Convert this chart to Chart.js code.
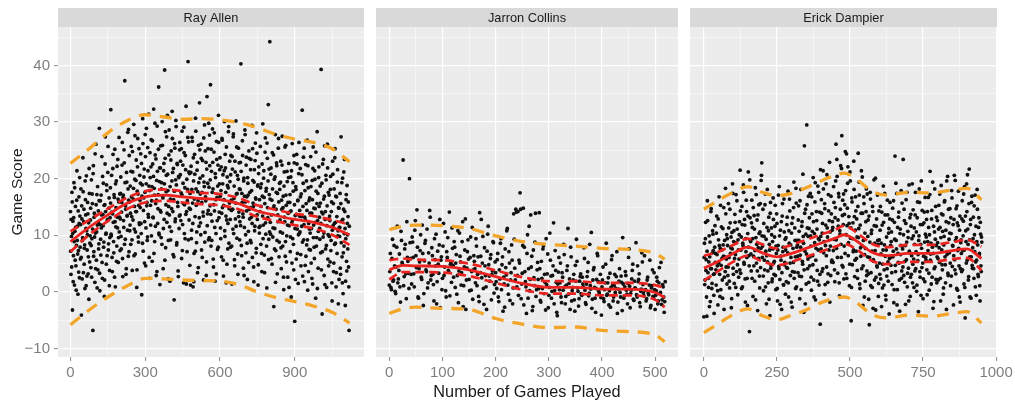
<!DOCTYPE html>
<html>
<head>
<meta charset="utf-8">
<title>Game Score by Number of Games Played</title>
<script src="https://cdn.jsdelivr.net/npm/chart.js@4.4.1/dist/chart.umd.min.js"></script>
<style>
  html, body { margin: 0; padding: 0; background: #ffffff; }
  #wrap { position: relative; width: 1015px; height: 402px; overflow: hidden; }
  .facet { position: absolute; top: 0; height: 402px; }
</style>
</head>
<body>
<div id="wrap">
  <div class="facet" style="left:0px;width:368px"><canvas id="facet0"></canvas></div>
  <div class="facet" style="left:372px;width:310px"><canvas id="facet1"></canvas></div>
  <div class="facet" style="left:686px;width:329px"><canvas id="facet2"></canvas></div>
</div>
<script>
// ---- facet names and axis text ----
const players = ['Ray Allen', 'Jarron Collins', 'Erick Dampier'];
const yTitle = 'Game Score';
const xTitle = 'Number of Games Played';

// game scores: the *Even arrays hold games 0, 2, 4, ... and the *Odd arrays games 1, 3, 5, ...
const gameStep = 2;

const allenEven = [
  14.2, 3.1, 9.8, 17.6, -3.2, 12.5, 6.4, 19.3, 1.2, 10.7, 15.1, 4.6, 8.2, 21.4, 11.6, -0.4, 7.3, 16.8, 2.5, 13.4,
  5.8, 18.2, -4.1, 12.9, 9.1, 23.7, 3.4, 14.6, 7.7, 0.6, 16.3, 11.2, 20.5, 2.8, 10.1, 13.8, 6.2, -1.3, 17.4, 8.6,
  12.7, 4.3, 19.8, 9.4, 15.6, -6.8, 22.3, 7.1, 13.9, 1.7, 10.4, 26.1, 5.6, 17.2, 11.8, 3.9, 14.3, 8.5, 28.9, 0.2,
  16.1, 6.5, 11.3, 23.9, 2.4, 13.7, 19.2, 8.8, -0.8, 15.4, 27.4, 10.2, 4.9, 17.9, 12.6, 21.1, 7.4, 14.8, 1.1, 9.6,
  18.4, 32.2, 9.9, 14.1, 3.6, 21.8, 12.3, 6.9, 16.7, 25.2, 0.9, 11.5, 19.6, 8.1, 13.2, 23.4, 5.2, 15.9, 10.6, 17.3,
  12.9, 20.3, 7.6, 15.8, 26.4, 2.7, 17.1, 11.4, 22.8, 37.3, 9.3, 14.6, 4.1, 19.4, 13.5, 28.2, 6.3, 16.2, 24.1, 10.8,
  18.7, 8.4, 25.7, 13.3, 3.8, 21.2, 16.4, 29.6, 11.1, 19.9, 6.7, 14.2, 23.3, 0.8, 17.8, 27.1, 9.7, 15.3, 12.2, 20.6,
  14.9, 24.4, 10.3, -0.5, 18.9, 30.6, 7.2, 16.6, 21.7, 12.4, 27.8, 4.6, 19.1, 15.2, 9.1, 25.5, 13.7, 31.4, 6.1, 17.9,
  20.2, 11.8, 26.9, 16.1, 5.4, 22.6, 13.1, 32.3, 18.3, 8.9, 24.2, 15.6, 2.9, 19.7, 29.3, 12.1, 17.2, 36.2, 10.1, 21.9,
  14.4, 25.8, 9.6, 19.3, 30.1, 16.9, 4.1, 21.4, 12.8, 39.2, 23.6, 7.8, 17.7, 27.4, 13.9, 20.8, 2.3, 15.1, 28.6, 11.5,
  18.6, 9.2, 24.9, 14.7, 31.9, 21.1, 6.6, 16.3, -1.4, 26.2, 12.4, 19.8, 29.2, 8.3, 22.7, 15.8, 3.7, 20.4, 11.2, 25.1,
  13.6, 23.1, 17.5, 5.9, 28.4, 11.9, 19.2, 1.6, 24.6, 15.4, 9.4, 21.6, 32.8, 14.2, 7.1, 18.1, 40.7, 26.5, 12.7, 20.9,
  17.4, 1.2, 22.2, 10.9, 27.3, 15.7, 0.9, 19.6, 6.8, 24.3, 13.3, 30.7, 18.2, 8.7, 21.5, 3.4, 16.1, 25.9, 11.6, 33.4,
  20.1, 12.2, 26.1, 7.4, 17.6, 23.2, 14.1, 2.1, 19.4, 29.5, 10.5, 16.8, 22.9, 5.3, 34.5, 13.8, 25.3, 9.2, 18.5, 27.7,
  15.2, 36.6, 8.1, 21.3, 12.5, 28.8, 18.2, 4.4, 24.7, 14.3, 1.9, 20.2, 10.3, 26.6, 16.7, 7.5, 22.4, 31.2, 13.1, 19.1,
  23.7, 11.3, 17.9, 6.2, 27.1, 14.9, 20.7, 2.8, 16.3, 30.1, 9.8, 21.9, 13.4, 25.6, 4.9, 18.8, 12.1, 28.3, 8.6, 15.7,
  19.5, 7.9, 24.1, 14.4, 1.4, 21.7, 11.1, 27.9, 16.5, 5.7, 23.1, 12.9, 30.2, 17.3, 9.5, 20.6, 3.1, 25.4, 14.1, 18.2,
  12.4, 22.9, 40.3, 8.2, 17.4, 26.7, 13.8, 4.2, 20.1, 11.4, 28.6, 15.9, 6.9, 23.8, 16.8, 2.2, 19.2, 10.7, 24.9, 14.6,
  17.6, 9.1, 23.4, 13.2, 29.4, 6.1, 19.7, 15.1, 1.8, 21.6, 11.6, 26.3, 16.4, 7.7, 24.5, 12.8, 18.9, 4.8, 22.1, 10.4,
  14.2, 25.7, 8.4, 19.1, 3.6, 16.9, 29.7, 11.8, 21.4, 6.5, 15.6, 27.2, 10.2, 18.3, 0.7, 23.6, 13.1, 33.1, 9.3, 17.2,
  44.2, 12.3, 20.8, 5.9, 16.2, 24.6, 9.7, 14.8, -2.6, 19.9, 11.2, 27.8, 7.3, 17.6, 22.3, 3.2, 13.6, 25.4, 15.9, 8.8,
  18.1, 10.6, 23.1, 4.1, 14.6, 27.5, 8.1, 16.9, 0.4, 21.2, 12.4, 6.3, 25.9, 15.3, 9.9, 19.5, 2.6, 13.9, 22.7, 11.7,
  15.8, 7.1, 20.3, -0.9, 12.2, 26.2, 9.4, 17.8, 3.9, 22.8, -5.2, 13.5, 18.6, 5.8, 24.3, 11.1, 16.1, 1.5, 20.9, 10.3,
  14.4, 21.8, 6.6, 17.3, 11.6, 32.1, 2.8, 19.2, 9.2, 25.4, 13.2, 4.7, 22.5, 15.6, 8.3, 26.8, 0.3, 18.4, 12.1, 7.5,
  16.6, 10.4, 23.9, 5.1, 13.9, 19.7, 1.4, 25.6, 11.8, 7.9, 21.4, 14.7, -1.1, 17.8, 9.6, 28.3, 12.6, 4.2, 20.2, 15.1,
  11.2, 18.7, 6.9, 39.3, 14.1, -3.9, 22.6, 9.7, 16.4, 2.9, 25.8, 12.8, 7.6, 19.8, 0.8, 15.2, 21.9, 10.1, 4.6, 17.1,
  13.4, 5.3, 20.4, 9.1, 15.9, -1.6, 23.1, 11.7, 3.6, 18.2, 8.4, 25.3, 12.3, 0.9, 16.8, 6.8, 21.6, 10.8, 14.9, 2.2,
  9.8, 17.4, 3.1, 27.4, 12.5, 6.2, 20.1, -0.3, 14.6, 8.1, 23.4, 11.2, 1.9, 16.3, 5.4, 18.8, 10.1, 13.3, 4.4, -6.8
];
const allenOdd = [
  7.2, 12.8, 4.4, 15.9, 10.3, 1.8, 13.1, 8.9, 18.4, 5.6, 11.4, 0.3, 16.2, 9.1, 6.7, 14.3, 3.5, 12.1, 20.2, 7.9,
  11.9, 6.1, 15.2, 2.3, 9.6, 17.7, 12.4, 4.9, 8.3, 19.6, 13.6, 1.1, 10.8, 7.4, 15.8, 3.2, 12.2, 21.8, 5.3, 9.9,
  14.8, 8.2, 2.6, 17.3, 11.1, 20.9, 6.3, 13.2, 9.7, 24.4, 4.1, 15.4, 10.6, 0.7, 18.6, 12.3, 7.6, 16.1, 3.3, 11.9,
  9.3, 17.1, 13.6, 5.2, 20.4, 11.7, 7.9, 15.3, 2.1, 22.6, 14.2, 10.4, 18.9, 6.4, 12.8, 25.7, 8.5, 16.6, 3.8, 13.1,
  15.7, 10.2, 20.6, 6.1, 13.8, 24.3, 8.9, 17.2, 2.6, 12.4, 19.1, 14.9, 5.4, 22.2, 11.3, 16.4, 9.6, 27.3, 13.2, 7.3,
  17.4, 9.8, 14.1, 22.4, 5.9, 16.7, 12.6, 25.1, 8.4, 19.3, 15.2, 3.1, 21.1, 13.4, 10.9, 18.2, 28.7, 7.1, 15.9, 11.8,
  13.9, 21.3, 16.8, 9.2, 24.8, 12.7, 18.3, 6.4, 15.1, 27.6, 10.6, 19.7, 14.2, 3.9, 22.1, 17.3, 8.8, 25.3, 11.9, 16.2,
  19.2, 12.1, 22.7, 16.9, 8.6, 26.2, 14.4, 20.3, 5.1, 17.6, 23.9, 11.3, 28.9, 15.8, 9.7, 21.4, 13.2, 18.7, 2.4, 24.6,
  15.3, 22.1, 9.9, 18.6, 26.7, 13.2, 20.4, 6.8, 17.1, 29.8, 11.6, 23.5, 16.2, 3.6, 21.3, 14.7, 25.2, 10.4, 19.5, 1.3,
  21.9, 14.1, 18.2, 8.4, 25.9, 16.6, 11.2, 22.7, 19.1, 5.6, 28.3, 15.4, 20.6, 12.3, 31.2, 17.9, 9.1, 24.2, 13.6, 1.9,
  16.4, 23.3, 10.7, 19.6, 27.1, 14.2, 21.8, 6.2, 17.8, 25.4, 12.9, 30.3, 18.9, 8.7, 22.5, 15.1, 2.7, 20.2, 13.4, 26.4,
  20.7, 12.6, 25.3, 17.2, 7.3, 22.4, 15.6, 29.1, 10.3, 18.4, 24.1, 13.7, 1.4, 19.9, 16.1, 27.3, 9.2, 21.2, 14.8, 4.7,
  14.6, 21.1, 9.4, 18.1, 26.6, 12.1, 23.7, 1.8, 16.4, 20.8, 7.2, 28.4, 15.3, 10.6, 22.9, 17.7, 4.3, 19.3, 13.1, 25.1,
  17.3, 10.1, 23.6, 15.8, 6.1, 20.5, 13.4, 27.2, 18.6, 8.8, 24.9, 16.1, 2.9, 21.7, 11.7, 19.2, 14.4, 29.8, 9.6, 22.3,
  19.8, 13.7, 25.2, 9.1, 17.6, 22.9, 5.8, 15.4, 28.1, 11.4, 20.9, 16.3, 3.2, 23.4, 12.6, 18.7, 7.9, 26.4, 14.1, 21.6,
  16.9, 9.4, 22.1, 13.9, 26.8, 19.1, 5.6, 15.3, 21.4, 10.8, 24.3, 17.6, 1.6, 12.7, 20.3, 7.6, 18.4, 29.2, 14.7, 23.1,
  12.8, 20.7, 16.2, 8.1, 23.9, 14.6, 27.4, 10.3, 18.7, 4.6, 21.2, 15.7, 11.6, 25.6, 17.4, 6.7, 19.9, 13.3, 22.8, 9.2,
  18.1, 11.7, 21.3, 6.4, 15.8, 24.1, 13.2, 19.6, 2.9, 16.9, 27.8, 10.1, 22.4, 14.3, 8.6, 20.2, 17.1, 5.2, 23.6, 12.9,
  14.9, 21.6, 8.7, 17.9, 12.1, 25.3, 15.7, 4.4, 19.4, 10.8, 23.2, 16.6, 6.9, 28.1, 13.6, 18.7, 1.2, 20.9, 11.4, 16.3,
  11.6, 18.4, 15.1, 6.8, 22.6, 13.4, 9.4, 20.1, 16.7, 3.4, 24.7, 12.2, 17.8, 8.1, 26.3, 14.9, 19.6, 5.7, 21.7, 10.6,
  16.4, 10.2, 21.9, 13.6, 4.9, 18.2, 11.3, 24.2, 15.2, 7.6, 20.3, 1.7, 14.6, 22.8, 9.1, 17.4, 12.4, 27.1, 6.2, 19.2,
  12.7, 19.4, 7.8, 16.2, 22.4, 10.4, 14.9, 2.6, 18.7, 13.2, 25.6, 8.9, 17.1, 5.3, 21.3, 11.8, 15.8, 20.2, 0.8, 14.1,
  17.2, 9.7, 14.3, 21.4, 5.1, 12.6, 19.3, 8.4, 24.1, 15.4, 11.2, 2.2, 18.1, 13.7, 22.6, 6.8, 16.2, 10.1, 26.4, 13.4,
  10.6, 16.8, 4.6, 13.3, 20.7, 8.8, 15.1, 23.8, 11.9, 1.8, 17.9, 12.7, 6.3, 19.6, 14.4, 9.2, 22.3, 3.6, 16.1, 11.1,
  13.9, 7.4, 18.6, 11.2, 2.4, 16.3, 21.8, 9.6, 14.8, 5.9, 19.9, 12.3, 24.7, 8.1, 15.6, 0.6, 17.4, 10.7, 22.1, 13.2,
  9.3, 15.7, 12.1, 3.9, 19.2, 7.1, 13.8, 23.4, 10.4, 16.9, 1.3, 14.2, 20.6, 8.2, 11.7, 26.1, 5.8, 17.6, 12.9, 9.8,
  12.6, 18.1, 7.3, 14.2, 1.6, 10.9, 20.8, 15.6, 5.1, 12.1, 23.7, 8.6, 16.9, 3.4, 13.3, 19.4, 9.9, -2.1, 14.8, 11.4,
  11.4, 4.2, 15.6, 8.7, 19.3, 1.6, 12.8, 6.9, 21.2, 10.3, 14.2, -2.4, 9.4, 17.2, 3.7, 12.1, 7.6, 15.9, 0.9, 11.6
];

const collinsEven = [
  1.2, 6.8, 0.4, 9.3, 2.1, 4.6, -0.3, 7.9, 1.6, 3.8, 0.9, 10.7, 5.2, 23.3, 2.7, 8.4, -1.2, 6.1, 3.3, 20.0,
  5.9, 1.4, 8.8, 3.2, 10.9, 6.4, 14.5, -0.9, 4.1, 7.3, 2.6, 11.8, -2.4, 5.5, 9.1, 3.6, 0.7, 6.9, 14.4, 2.1,
  7.8, 3.1, -1.6, 5.7, 10.2, 1.8, 4.9, 8.3, -2.8, 6.2, 2.4, 12.1, 4.4, 0.2, 7.1, 9.6, 3.5, -0.7, 5.1, 11.3,
  4.7, 8.9, 0.8, 6.6, 2.9, -1.9, 10.4, 5.3, 3.4, 12.4, 1.1, 7.4, -3.1, 4.2, 9.2, 2.2, 6.1, 0.3, 11.4, 3.9,
  5.4, 1.6, 8.1, 3.1, -0.8, 14.0, 6.3, 2.5, 9.8, -2.2, 4.6, 0.9, 7.2, 11.6, 2.8, 5.9, -1.4, 3.7, 8.7, 1.3,
  3.4, 0.6, 6.8, -1.7, 2.3, 9.4, 4.8, -3.4, 1.4, 7.6, 3.0, 11.2, -0.4, 5.1, 2.1, 8.3, -2.1, 13.8, 4.2, 14.6,
  0.9, 14.2, 5.6, 17.5, -1.2, 3.3, 14.8, 7.9, 1.8, -3.8, 10.1, 4.1, 0.2, 13.6, 6.3, -2.6, 2.5, 8.8, -0.8, 3.9,
  2.2, 14.0, -1.5, 5.4, 0.6, 8.1, 3.1, -3.2, 1.3, 6.7, -0.6, 10.4, 2.8, 0.1, 4.6, -2.1, 7.3, 1.7, -4.2, 3.5,
  0.4, 5.1, -1.9, 2.6, 8.4, 0.9, -0.8, 3.8, 11.2, 1.5, -3.1, 6.2, 0.2, 2.1, -1.4, 4.7, 9.3, 0.7, -2.5, 1.9,
  3.2, -0.6, 1.4, 7.8, 0.3, -2.2, 2.7, 5.2, -0.2, 1.1, 10.5, -1.3, 3.9, 0.8, -3.6, 2.2, 6.4, 0.1, 1.7, -1.0,
  0.9, 4.4, -1.7, 1.6, 8.6, -0.4, 2.5, 0.2, -2.7, 5.7, 1.2, -0.9, 3.1, 0.6, 7.1, -1.8, 1.9, -0.1, 2.8, -3.3,
  1.4, -0.7, 3.6, 0.3, -2.1, 6.1, 1.0, -0.3, 2.3, 4.9, -1.5, 0.7, 8.7, -0.9, 1.8, 3.2, -2.6, 0.5, 5.3, -0.2,
  6.4, 0.4, -1.2, 2.6, -0.5, 5.6, -2.4, 1.1, -0.8, 3.4, -3.1, 0.2, 1.9, -1.6, 4.3, -0.1, -2.2, 1.3, -0.9, -1.7
];
const collinsOdd = [
  3.6, 0.8, 5.9, 1.9, 8.2, 0.1, 4.4, 11.6, 2.3, 6.7, -1.8, 9.1, 4.9, 1.1, 7.6, 3.2, 12.4, 5.4, 0.6, 8.7,
  3.1, 9.7, 6.1, 0.9, 12.6, 4.3, 7.9, -1.1, 5.3, 10.1, 2.2, 6.8, -0.3, 8.6, 3.9, 11.1, 1.6, 5.1, 13.2, 2.9,
  6.4, 1.3, 9.4, 4.6, -2.1, 7.2, 3.3, 12.8, 5.6, 0.4, 8.1, 2.9, 10.6, -0.9, 6.1, 3.8, 14.1, 4.9, 1.7, 7.7,
  2.6, 7.9, 5.1, -0.4, 10.8, 3.7, 6.3, 1.2, 8.9, -2.6, 4.4, 12.9, 2.1, 7.1, 5.8, 0.2, 9.7, 3.6, -1.3, 6.4,
  4.1, 9.4, 1.1, 6.2, -1.7, 3.4, 12.8, 5.1, 0.6, 7.8, 2.9, -3.1, 10.2, 4.8, 1.9, 6.6, 3.1, 8.9, -0.2, 5.3,
  1.8, 5.7, -0.9, 3.9, 8.6, 0.4, 6.2, 2.6, -2.7, 4.3, 10.8, 1.2, 7.1, -1.5, 3.4, 5.6, 0.7, 9.3, 2.1, 14.1,
  2.9, -0.6, 5.1, 14.6, 1.4, 8.2, -2.3, 3.6, 0.9, 6.8, -1.1, 11.6, 2.2, 4.4, -3.3, 7.4, 1.1, 13.9, 0.4, 5.2,
  0.6, 4.1, -1.8, 2.4, 7.6, -0.3, 1.7, 9.4, 3.2, -2.8, 0.8, 5.6, -1.1, 2.9, 12.2, 0.2, 3.8, -3.6, 1.4, 6.1,
  1.6, -0.9, 3.4, 0.3, 6.6, -2.1, 1.2, 4.6, -0.4, 2.3, 7.9, -1.6, 0.8, 3.1, -3.4, 1.9, 5.4, 0.1, -1.2, 2.7,
  -0.3, 2.6, 0.9, 5.9, -1.9, 1.4, 3.6, -0.7, 8.4, 0.5, -2.9, 2.1, 4.3, -1.1, 0.6, 6.8, 1.8, -0.2, 3.1, -4.1,
  2.1, -1.2, 0.4, 4.9, -0.6, 1.6, -2.3, 3.3, 0.8, 6.4, -1.6, 1.1, -0.1, 2.7, -3.8, 0.5, 4.1, -0.9, 1.7, 9.6,
  -1.1, 0.9, 2.9, -0.4, 1.5, 7.6, -2.8, 0.3, 3.8, -1.3, 1.9, 0.6, -0.5, 4.6, 2.2, -1.9, 0.1, 6.9, 1.3, -0.7,
  0.3, -1.6, 2.1, -0.2, 1.2, -2.8, 0.7, 3.9, -1.1, 0.4, -0.6, 2.6, -2.1, 1.6, -0.3, 5.2, -1.4, 0.9, -3.6, 1.8
];

const dampierEven = [
  -4.4, 8.6, 2.1, 12.3, 5.7, -4.3, 16.1, 3.4, 0.8, 9.9, 6.2, -1.7, 14.2, 4.1, 1.5, 10.8, 7.3, -0.6, 3.2, 11.7,
  6.8, 1.2, 13.4, 4.6, -2.3, 9.2, 16.8, 3.1, 7.7, 0.4, 11.5, 5.9, -1.1, 8.3, 14.9, 2.6, 6.2, 18.3, 4.4, 10.1,
  9.4, 2.9, 15.6, 6.1, 0.7, 12.2, 7.8, -2.8, 10.5, 19.1, 4.2, 8.9, 1.5, 13.7, 6.6, 17.2, 3.6, 11.1, -0.5, 7.4,
  5.8, 12.4, 21.5, 3.3, 9.7, 15.1, 0.9, 8.2, 17.6, 4.9, 11.8, -1.8, 7.1, 14.2, 2.4, 10.3, 21.2, 6.4, -7.0, 13.1,
  8.9, 3.7, 16.2, 11.4, -0.8, 6.3, 13.5, 1.9, 18.4, 9.6, 5.1, 12.7, -3.3, 7.8, 15.4, 2.8, 10.6, 4.3, 19.7, 22.8,
  6.1, 14.6, 0.2, 9.8, 3.9, 17.3, 7.2, -2.1, 11.4, 5.3, 1.6, 13.2, 8.4, -4.2, 15.8, 4.7, 10.1, 2.3, 7.6, 12.8,
  3.1, 9.7, 15.3, 0.4, 6.8, 12.1, -1.6, 8.2, 4.5, 18.6, 2.2, 10.9, 5.6, -3.1, 13.4, 7.1, 1.3, 16.4, 4.8, 9.3,
  7.4, 1.8, 11.9, 4.2, 17.8, -0.9, 8.6, 14.3, 2.9, 6.1, 10.4, -2.7, 13.1, 5.2, 19.4, 3.5, 9.1, 0.6, 15.7, 7.9,
  8.3, 3.4, 15.2, 10.7, -1.2, 6.5, 18.1, 2.7, 12.4, 4.9, 9.8, -3.6, 25.8, 7.2, 14.6, 1.4, 29.5, 11.3, 5.8, 16.9,
  11.2, 4.6, 17.4, 8.1, 0.3, 13.8, 6.4, 20.2, 2.1, 10.3, 15.9, -1.4, 7.7, 12.6, 3.8, 18.7, 9.4, 1.2, 14.1, -5.7,
  9.8, 16.3, 3.6, 12.1, 21.4, 6.9, -0.4, 14.7, 8.2, 19.1, 4.4, 11.3, 1.7, 17.2, 7.4, 22.9, 10.6, 2.9, 13.8, 5.6,
  12.4, 5.2, 18.6, 9.3, 1.8, 14.9, 26.1, 7.7, 20.4, 3.3, 11.6, 16.8, -0.7, 10.2, 22.3, 6.1, 27.6, 13.5, 4.4, 17.3,
  8.1, 15.4, 24.8, 3.2, 24.4, 11.7, 19.2, 6.4, 13.3, 1.1, 21.2, 9.5, -5.1, 16.6, 4.8, 12.2, 7.4, 18.1, 2.7, 10.9,
  14.3, 5.9, 9.7, 2.4, 24.5, 11.2, 17.1, 0.6, 7.8, 13.9, 4.1, 20.3, -2.4, 9.1, 15.6, 6.6, 1.9, 12.4, 18.2, 3.7,
  6.2, 12.7, -1.3, -5.8, 8.8, 16.4, 3.4, 10.9, 0.8, 14.2, 5.7, 19.8, 2.1, 7.3, -3.2, 11.6, 4.6, 17.1, 8.4, 1.5,
  9.2, 3.1, 15.1, 6.7, -2.6, 11.8, 4.9, 18.7, 1.2, 8.3, 13.6, -0.6, 7.4, 2.8, 16.2, 5.3, 10.4, -3.9, 12.9, 6.1,
  4.7, 10.6, 1.3, 14.8, 7.2, -1.9, 12.3, 24.0, 3.6, 9.1, 17.4, 0.4, 6.8, 13.2, 5.1, -3.4, 11.1, 8.2, 2.4, 15.7,
  7.6, 23.4, 2.9, 12.6, 5.4, -2.2, 16.3, 8.8, 0.9, 10.7, 4.2, 18.9, 6.9, -0.8, 13.7, 3.1, 9.4, 1.6, 14.5, 5.8,
  11.3, 3.7, 17.6, 7.1, 0.1, 13.1, 5.5, -3.5, 9.9, 15.8, 2.6, 8.4, 19.6, 4.3, 11.9, -1.2, 6.3, 14.1, 1.8, 10.2,
  5.6, 12.8, -0.5, 8.9, 16.7, 3.3, 10.1, 21.3, 6.7, 1.4, 14.4, 7.9, -2.9, 11.6, 4.1, 18.2, 9.3, 2.2, 13.2, 6.2,
  8.7, 2.1, 15.3, 5.2, 11.4, -1.6, 18.8, 7.4, 3.9, 13.6, 0.7, 9.8, 16.1, 4.8, 10.9, -3.1, 6.6, 20.4, 2.9, 12.2,
  6.9, 14.7, 1.1, 10.3, 17.9, 4.5, 8.1, -2.3, 12.8, 5.7, 19.7, 3.2, 9.6, 15.2, 0.3, 11.7, 7.7, -0.9, 13.4, 4.1,
  9.2, 3.6, 16.1, 7.3, 12.5, 1.4, 18.6, -4.6, 10.8, 5.1, 14.2, 20.7, 8.4, 2.7, 21.7, 6.2, 11.9, -1.1, 15.8, 4.7,
  7.8, 13.2, 2.4, 10.1, 17.1, 5.3, -0.6, 8.9, 14.6, 3.1, 11.4, 6.4, 1.1, 12.3, 4.6, 9.7
];
const dampierOdd = [
  6.1, 1.3, 9.4, 3.8, -0.9, 7.2, 12.6, 2.4, 5.3, -2.6, 8.8, 4.1, 14.7, 0.6, 6.9, 10.2, 3.1, -3.8, 7.9, 5.2,
  3.9, 10.4, 6.6, 0.2, 12.9, 5.1, 8.2, -0.8, 15.3, 4.7, 7.4, 2.1, 11.2, 6.3, -3.1, 9.1, 3.6, 13.8, 5.8, 1.4,
  8.2, 4.4, 11.3, 1.9, 14.6, 6.8, 9.7, -1.2, 7.6, 17.4, 3.1, 10.8, 5.9, 12.3, 0.8, 8.7, 16.1, 4.8, 9.2, 2.6,
  10.1, 3.9, 14.3, 7.4, 0.6, 11.9, 8.6, 18.9, 5.2, 12.8, 2.3, 9.4, 16.2, 6.1, -2.4, 13.4, 7.9, 4.6, 19.8, 9.1,
  6.7, 12.2, 2.4, 9.4, 14.9, 4.6, 11.1, 7.3, -1.4, 17.2, 8.4, 3.7, 13.6, 5.9, 10.3, 0.7, 15.6, 7.7, 20.6, 9.9,
  8.1, 2.8, 12.1, 5.6, 15.4, 0.9, 9.3, 6.4, 18.1, 3.7, 10.8, -1.3, 7.4, 13.9, 4.2, 11.3, 1.8, 8.9, 16.6, 5.1,
  5.4, 11.6, 2.9, 8.1, 13.8, 0.6, 7.4, 17.1, 4.1, 9.9, -2.2, 6.3, 12.4, 3.4, 15.6, 7.9, 1.2, 10.6, 5.2, -0.4,
  9.6, 4.3, 13.2, 6.9, 1.6, 10.8, 16.4, 5.1, 8.3, -1.8, 12.1, 3.6, 7.7, 14.9, 2.4, 11.3, 6.2, 18.3, 0.9, 9.1,
  6.3, 12.7, 9.1, 2.8, 16.1, 7.9, 0.4, 11.6, 5.4, 20.8, 8.6, 3.9, 13.9, -2.1, 10.2, 6.7, 15.4, 4.1, 9.8, 1.7,
  13.1, 6.2, 9.9, 2.6, 16.8, 10.7, 4.8, 12.4, -0.9, 8.7, 19.3, 5.6, 14.2, 11.1, 1.9, 7.4, 17.6, 9.2, 3.1, 21.6,
  7.6, 13.9, 10.4, 4.1, 18.2, 8.9, 15.6, 1.3, 11.8, 6.4, 20.7, 9.7, 3.2, 14.3, 12.6, -1.8, 8.1, 16.9, 5.3, 10.9,
  11.4, 7.3, 15.8, 3.9, 13.1, 19.6, 9.2, 23.4, 6.1, 12.7, 17.4, 1.6, 10.8, 14.6, 8.4, 21.8, 4.7, 16.2, 11.9, 2.3,
  13.7, 6.8, 17.9, 10.1, 2.4, 14.8, 22.1, 8.7, 12.1, 4.9, 19.6, 11.3, 0.8, 15.9, 9.4, 7.1, 23.1, 13.3, 5.6, 16.8,
  7.2, 12.9, 3.8, 15.1, 9.6, 19.4, 1.4, 11.8, 6.3, 21.4, 8.1, 13.9, 4.6, 16.8, -0.9, 10.4, 7.7, 14.2, 2.9, 17.3,
  9.8, 3.2, 13.4, 6.1, 17.6, 1.1, 10.3, 7.2, 15.1, -2.9, 5.4, 11.7, 8.6, 20.1, 2.6, 12.9, 4.4, 9.1, -0.8, 14.3,
  5.1, 10.9, 2.3, 8.6, 14.1, 0.7, 7.4, 12.3, 3.9, 17.4, 6.3, -1.4, 9.7, 4.1, 13.6, 1.9, 11.2, 5.9, 15.8, 8.2,
  8.9, 3.4, 12.7, 6.2, 16.1, 0.4, 9.3, 4.7, 19.2, 7.6, -2.3, 11.4, 5.2, 14.1, 2.1, 10.3, 6.6, 17.9, 3.7, 8.1,
  4.4, 10.1, 14.6, 1.7, 8.2, 12.1, 5.7, 17.6, 3.3, 9.6, -1.6, 7.2, 13.1, 2.6, 11.6, 6.4, 19.1, 4.9, 9.9, 0.8,
  8.4, 13.6, 4.1, 10.6, 1.2, 15.9, 6.6, 9.1, 18.2, 3.6, 11.9, -0.6, 7.7, 14.4, 5.1, 2.3, 12.2, 8.8, 16.7, 6.1,
  9.7, 3.9, 14.2, 7.3, 11.4, 0.3, 17.2, 5.6, 8.6, 12.9, 2.6, 19.4, 6.8, -1.7, 10.6, 4.4, 15.1, 8.2, 1.6, 12.6,
  5.9, 11.1, 7.8, 17.3, 2.4, 9.6, 13.8, 4.8, 10.7, -0.4, 8.3, 15.9, 6.2, 1.6, 12.4, 19.6, 7.1, 3.3, 14.6, 9.3,
  10.4, 5.1, 13.1, 2.8, 16.6, 8.2, 11.9, 6.4, 20.6, 3.9, 9.1, 14.7, 0.6, 12.2, 7.3, 17.8, 4.6, 10.9, -1.8, 8.7,
  6.8, 12.9, 3.9, 9.9, 17.3, 7.4, 0.8, 13.4, 8.9, 19.1, 5.6, 11.1, 2.1, 15.6, 9.2, -0.9, 12.8, 6.2, 16.9, 4.2,
  9.4, 4.1, 15.2, 7.1, 0.9, 11.6, 5.6, 18.1, 8.3, 2.7, 13.1, 6.8, -1.6, 10.2, 3.6, 8.8
];

// smoothed trend (solid), its confidence limits (red dashes) and the wider interval (orange dashes)
const allenFitGames = [0, 75, 150, 225, 300, 375, 450, 525, 600, 675, 750, 825, 900, 975, 1050, 1120];
const allenFit      = [8.9, 11.4, 13.6, 15.6, 16.8, 17.1, 16.8, 16.5, 16.3, 15.6, 14.3, 13.5, 12.8, 12.3, 11.4, 10.1];
const allenFitHi    = [10.7, 12.7, 14.7, 16.6, 17.8, 18.1, 17.8, 17.5, 17.3, 16.6, 15.3, 14.5, 13.8, 13.4, 12.7, 11.9];
const allenFitLo    = [7.1, 10.1, 12.5, 14.6, 15.8, 16.1, 15.8, 15.5, 15.3, 14.6, 13.3, 12.5, 11.8, 11.2, 10.1, 8.3];
const allenWideHi   = [22.7, 25.3, 28.1, 30.2, 31.3, 30.9, 30.5, 30.6, 30.4, 29.9, 29.0, 27.8, 27.0, 26.4, 25.3, 23.0];
const allenWideLo   = [-5.8, -3.2, -0.9, 1.0, 2.4, 2.3, 2.1, 2.0, 1.9, 1.3, 0.0, -1.0, -1.7, -2.5, -3.6, -5.5];

const collinsFitGames = [0, 25, 50, 100, 150, 200, 250, 300, 350, 400, 450, 500, 518];
const collinsFit      = [3.9, 4.7, 4.6, 4.5, 3.9, 2.7, 1.5, 0.8, 0.8, 0.5, 0.5, -0.1, -1.0];
const collinsFitHi    = [5.6, 5.9, 5.7, 5.6, 5.0, 3.8, 2.6, 1.9, 1.9, 1.6, 1.6, 1.2, 0.7];
const collinsFitLo    = [2.2, 3.5, 3.5, 3.4, 2.8, 1.6, 0.4, -0.3, -0.3, -0.6, -0.6, -1.4, -2.7];
const collinsWideHi   = [11.0, 11.6, 11.8, 11.7, 11.2, 9.9, 8.9, 8.4, 8.1, 7.7, 7.5, 6.8, 5.8];
const collinsWideLo   = [-3.8, -3.0, -2.7, -2.9, -3.1, -4.7, -5.7, -6.3, -6.2, -6.8, -7.0, -7.6, -8.8];

const dampierFitGames = [0, 50, 100, 150, 200, 250, 300, 350, 400, 450, 480, 525, 575, 625, 700, 775, 850, 900, 950];
const dampierFit      = [4.2, 5.4, 6.8, 7.9, 6.9, 6.2, 6.8, 7.7, 8.6, 9.5, 10.1, 8.9, 7.0, 6.4, 6.8, 6.8, 7.3, 7.6, 5.9];
const dampierFitHi    = [6.4, 7.1, 8.3, 9.4, 8.4, 7.7, 8.3, 9.2, 10.1, 11.0, 11.7, 10.4, 8.5, 7.9, 8.3, 8.3, 8.8, 9.2, 8.0];
const dampierFitLo    = [2.0, 3.7, 5.3, 6.4, 5.4, 4.7, 5.3, 6.2, 7.1, 8.0, 8.5, 7.4, 5.5, 4.9, 5.3, 5.3, 5.8, 6.0, 3.8];
const dampierWideHi   = [14.6, 16.2, 17.6, 18.6, 17.6, 17.0, 17.4, 18.4, 19.6, 20.6, 21.0, 19.8, 17.8, 17.1, 17.6, 17.5, 18.0, 18.3, 16.3];
const dampierWideLo   = [-7.2, -5.6, -4.0, -3.0, -4.2, -4.9, -4.1, -3.2, -1.9, -1.1, -0.9, -2.0, -4.0, -4.6, -4.1, -4.3, -3.8, -3.5, -5.5];

// axis breaks
const yMajorTicks = [-10, 0, 10, 20, 30, 40];
const yMinorTicks = [-5, 5, 15, 25, 35, 45];
const allenXMajor = [0, 300, 600, 900];
const allenXMinor = [150, 450, 750, 1050];
const collinsXMajor = [0, 100, 200, 300, 400, 500];
const collinsXMinor = [50, 150, 250, 350, 450];
const dampierXMajor = [0, 250, 500, 750, 1000];
const dampierXMinor = [125, 375, 625, 875];

// ---- styling ----
const FONT = '"Liberation Sans", Arial, Helvetica, sans-serif';
Chart.defaults.font.family = FONT;
const PANEL_BG = '#ECECEC';
const STRIP_BG = '#D9D9D9';
const TICK_TEXT = '#7F7F7F';
const TICK_MARK = '#8C8C8C';
const RED = '#EA2320';
const ORANGE = '#F3A529';

const fmt = v => (v < 0 ? '\u2212' + Math.abs(v) : String(v));

// grey panel plus the facet strip above it
const facetPanel = {
  id: 'facetPanel',
  beforeDraw(chart, args, opts) {
    const { ctx, chartArea: a } = chart;
    ctx.save();
    ctx.fillStyle = PANEL_BG;
    ctx.fillRect(a.left, a.top, a.right - a.left, a.bottom - a.top);
    ctx.fillStyle = STRIP_BG;
    ctx.fillRect(a.left, 8, a.right - a.left, a.top - 8);
    ctx.fillStyle = '#1A1A1A';
    ctx.font = '12.8px ' + FONT;
    ctx.textAlign = 'center';
    ctx.textBaseline = 'middle';
    ctx.fillText(opts.label, (a.left + a.right) / 2, (8 + a.top) / 2 + 0.5);
    ctx.restore();
  }
};

function gridStyle(majors, withTicks) {
  const isMajor = v => majors.includes(v);
  return {
    color: c => (c.tick && isMajor(c.tick.value) ? '#FFFFFF' : 'rgba(255,255,255,0.8)'),
    lineWidth: c => (c.tick && isMajor(c.tick.value) ? 1.2 : 0.6),
    drawTicks: withTicks,
    tickLength: 4,
    tickWidth: 1,
    tickColor: c => (c.tick && isMajor(c.tick.value) ? TICK_MARK : 'rgba(0,0,0,0)')
  };
}

function fixedTicks(majors, minors) {
  return scale => {
    scale.ticks = majors.concat(minors)
      .filter(v => v >= scale.min && v <= scale.max)
      .sort((p, q) => p - q)
      .map(v => ({ value: v }));
  };
}

function lineSet(games, values, color, width, dash, order) {
  return {
    data: games.map((g, i) => ({ x: g, y: values[i] })),
    showLine: true,
    borderColor: color,
    borderWidth: width,
    borderDash: dash,
    pointRadius: 0,
    fill: false,
    cubicInterpolationMode: 'monotone',
    order: order
  };
}

function facet(cfg) {
  const points = cfg.even.map((v, i) => ({ x: i * gameStep, y: v }))
    .concat(cfg.odd.map((v, i) => ({ x: i * gameStep + 1, y: v })));
  const datasets = [
    lineSet(cfg.fitGames, cfg.fit, RED, 2.8, [], 1),
    lineSet(cfg.fitGames, cfg.fitHi, RED, 2.7, [9, 5], 2),
    lineSet(cfg.fitGames, cfg.fitLo, RED, 2.7, [9, 5], 2),
    lineSet(cfg.fitGames, cfg.wideHi, ORANGE, 3.3, [12, 9], 3),
    lineSet(cfg.fitGames, cfg.wideLo, ORANGE, 3.3, [12, 9], 3),
    {
      data: points,
      pointRadius: 1.9,
      pointBackgroundColor: '#111111',
      pointBorderWidth: 0,
      showLine: false,
      order: 5
    }
  ];
  return new Chart(document.getElementById(cfg.canvas), {
    type: 'scatter',
    data: { datasets },
    plugins: [facetPanel],
    options: {
      responsive: true,
      maintainAspectRatio: false,
      animation: false,
      events: [],
      layout: { padding: { top: 27, left: 0, right: cfg.padRight, bottom: 0 } },
      plugins: {
        legend: { display: false },
        tooltip: { enabled: false },
        facetPanel: { label: cfg.label }
      },
      scales: {
        x: {
          type: 'linear',
          min: cfg.xMin,
          max: cfg.xMax,
          afterBuildTicks: fixedTicks(cfg.xMajor, cfg.xMinor),
          afterFit: s => { s.height = 45; s.paddingLeft = 0; s.paddingRight = 0; },
          grid: gridStyle(cfg.xMajor, true),
          border: { display: false },
          ticks: {
            autoSkip: false,
            maxRotation: 0,
            minRotation: 0,
            padding: 3,
            color: TICK_TEXT,
            font: { size: 15 },
            callback: v => (cfg.xMajor.includes(v) ? fmt(v) : '')
          },
          title: {
            display: !!cfg.xTitle,
            text: cfg.xTitle || '',
            color: '#1A1A1A',
            font: { size: 16.3 },
            padding: { top: 0, bottom: 0 }
          }
        },
        y: {
          type: 'linear',
          min: -11.5,
          max: 46.8,
          afterBuildTicks: fixedTicks(yMajorTicks, yMinorTicks),
          afterFit: s => { s.width = cfg.yWidth; s.paddingTop = 0; s.paddingBottom = 0; },
          grid: gridStyle(yMajorTicks, cfg.yLabels),
          border: { display: false },
          ticks: {
            display: cfg.yLabels,
            padding: 4,
            color: TICK_TEXT,
            font: { size: 15 },
            callback: v => (yMajorTicks.includes(v) ? fmt(v) : '')
          },
          title: {
            display: cfg.yLabels,
            text: yTitle,
            color: '#1A1A1A',
            font: { size: 15.5 },
            padding: { top: 8, bottom: 0 }
          }
        }
      }
    }
  });
}

facet({
  canvas: 'facet0', label: players[0], even: allenEven, odd: allenOdd,
  fitGames: allenFitGames, fit: allenFit, fitHi: allenFitHi, fitLo: allenFitLo,
  wideHi: allenWideHi, wideLo: allenWideLo,
  xMin: -50, xMax: 1178, xMajor: allenXMajor, xMinor: allenXMinor,
  yWidth: 58, yLabels: true, padRight: 0
});
facet({
  canvas: 'facet1', label: players[1], even: collinsEven, odd: collinsOdd,
  fitGames: collinsFitGames, fit: collinsFit, fitHi: collinsFitHi, fitLo: collinsFitLo,
  wideHi: collinsWideHi, wideLo: collinsWideLo,
  xMin: -25, xMax: 543, xMajor: collinsXMajor, xMinor: collinsXMinor,
  yWidth: 0, yLabels: false, padRight: 0, xTitle: xTitle
});
facet({
  canvas: 'facet2', label: players[2], even: dampierEven, odd: dampierOdd,
  fitGames: dampierFitGames, fit: dampierFit, fitHi: dampierFitHi, fitLo: dampierFitLo,
  wideHi: dampierWideHi, wideLo: dampierWideLo,
  xMin: -47.5, xMax: 1003, xMajor: dampierXMajor, xMinor: dampierXMinor,
  yWidth: 0, yLabels: false, padRight: 18
});
</script>
</body>
</html>
